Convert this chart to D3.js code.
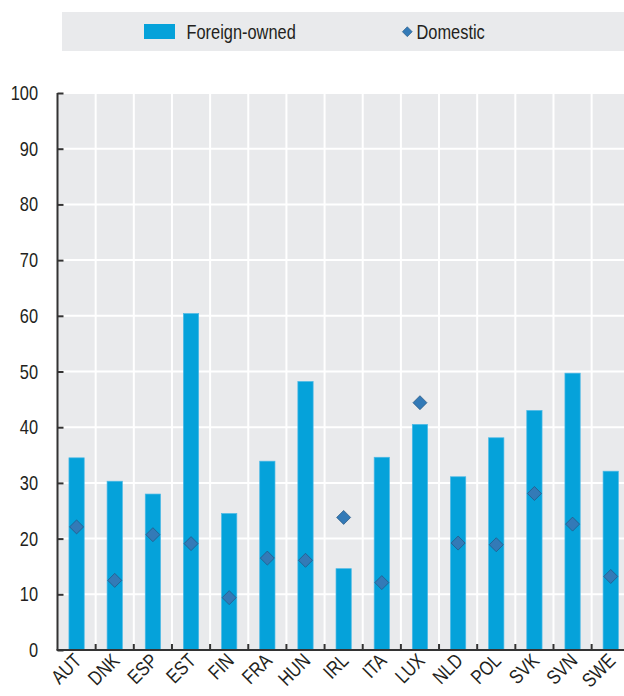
<!DOCTYPE html>
<html>
<head>
<meta charset="utf-8">
<script src="https://cdn.jsdelivr.net/npm/d3@7"></script>
<style>
  html, body { margin: 0; padding: 0; background: #ffffff; }
  svg { display: block; }
  text { font-family: "Liberation Sans", Arial, sans-serif; fill: #231f20; }
</style>
</head>
<body>
<script>
const categories = ["AUT","DNK","ESP","EST","FIN","FRA","HUN","IRL","ITA","LUX","NLD","POL","SVK","SVN","SWE"];
const foreignOwned = [34.5, 30.3, 28.0, 60.4, 24.5, 33.9, 48.2, 14.6, 34.6, 40.5, 31.1, 38.1, 43.0, 49.7, 32.1];
const domestic = [22.1, 12.5, 20.7, 19.1, 9.4, 16.5, 16.1, 23.8, 12.1, 44.4, 19.2, 18.9, 28.1, 22.6, 13.2];
const yTicks = [0, 10, 20, 30, 40, 50, 60, 70, 80, 90, 100];
const seriesNames = ["Foreign-owned", "Domestic"];

const W = 624, H = 696;
const pLeft = 57.5, pTop = 93, pBottom = 650, pRight = 629.8;
const barColor = "#05a2da", diamondFill = "#337ab7", diamondStroke = "#24557f";
const bg = "#e9eaec";
const FS = 20, SX = 0.82; // narrow-font emulation

const svg = d3.select("body").append("svg").attr("width", W).attr("height", H);

function label(g, tx, ty, str, anchor, rot) {
  return g.append("text")
    .attr("transform", `translate(${tx},${ty})${rot ? ` rotate(${rot})` : ""} scale(${SX},1)`)
    .attr("text-anchor", anchor || "start")
    .attr("font-size", FS)
    .text(str);
}

const x = d3.scaleBand().domain(categories).range([pLeft, pRight]).padding(0);
const y = d3.scaleLinear().domain([0, 100]).range([pBottom, pTop]);

// legend
svg.append("rect").attr("x", 62).attr("y", 12).attr("width", W - 62).attr("height", 39).attr("fill", bg);
svg.append("rect").attr("x", 144).attr("y", 24).attr("width", 31).attr("height", 15).attr("fill", barColor);
label(svg, 186.5, 38.5, seriesNames[0]);
svg.append("path").attr("d", d3.symbol(d3.symbolDiamond2, 62)()).attr("transform", "translate(407.3,31.7)")
  .attr("fill", diamondFill).attr("stroke", diamondStroke).attr("stroke-width", 0.6);
label(svg, 416.5, 38.5, seriesNames[1]);

// plot background
svg.append("rect").attr("x", pLeft).attr("y", pTop).attr("width", pRight - pLeft).attr("height", pBottom - pTop).attr("fill", bg);

// horizontal gridlines
svg.append("g").selectAll("line").data(yTicks.filter(d => d > 0)).join("line")
  .attr("x1", pLeft).attr("x2", pRight).attr("y1", d => y(d)).attr("y2", d => y(d))
  .attr("stroke", "#ffffff").attr("stroke-width", 2);

// vertical gridlines at category boundaries
const bounds = categories.slice(1).map(c => x(c));
svg.append("g").selectAll("line").data(bounds).join("line")
  .attr("x1", d => d).attr("x2", d => d).attr("y1", pTop).attr("y2", pBottom)
  .attr("stroke", "#ffffff").attr("stroke-width", 2);

// bars
const bw = x.bandwidth() * 0.4;
svg.append("g").selectAll("rect").data(categories).join("rect")
  .attr("x", (c) => x(c) + x.bandwidth() / 2 - bw / 2)
  .attr("y", (c, i) => y(foreignOwned[i]))
  .attr("width", bw)
  .attr("height", (c, i) => y(0) - y(foreignOwned[i]))
  .attr("fill", barColor).attr("stroke", "#4cb9e6").attr("stroke-width", 0.7);

// diamonds
svg.append("g").selectAll("path").data(categories).join("path")
  .attr("d", d3.symbol(d3.symbolDiamond2, 125)())
  .attr("transform", (c, i) => `translate(${x(c) + x.bandwidth() / 2},${y(domestic[i])})`)
  .attr("fill", diamondFill).attr("stroke", diamondStroke).attr("stroke-width", 0.7);

// y axis
const yAxis = d3.axisRight(y).tickValues(yTicks).tickSize(6).tickFormat("");
const gy = svg.append("g").attr("transform", `translate(${pLeft},0)`).call(yAxis);
gy.select(".domain").attr("stroke", "#333").attr("stroke-width", 2).attr("d", `M0,${pTop}V${pBottom}`);
gy.selectAll(".tick line").attr("stroke", "#333").attr("stroke-width", 2);
const gyl = svg.append("g");
yTicks.forEach(d => label(gyl, 38, y(d) + 7, d, "end"));

// x axis
svg.append("line").attr("x1", pLeft - 1).attr("x2", pRight).attr("y1", pBottom).attr("y2", pBottom)
  .attr("stroke", "#333").attr("stroke-width", 2);
svg.append("g").selectAll("line").data(bounds).join("line")
  .attr("x1", d => d).attr("x2", d => d).attr("y1", pBottom - 6).attr("y2", pBottom)
  .attr("stroke", "#333").attr("stroke-width", 2);
const gxl = svg.append("g");
categories.forEach(c => label(gxl, x(c) + x.bandwidth() / 2 + 6, pBottom + 12, c, "end", -45));
</script>
</body>
</html>
